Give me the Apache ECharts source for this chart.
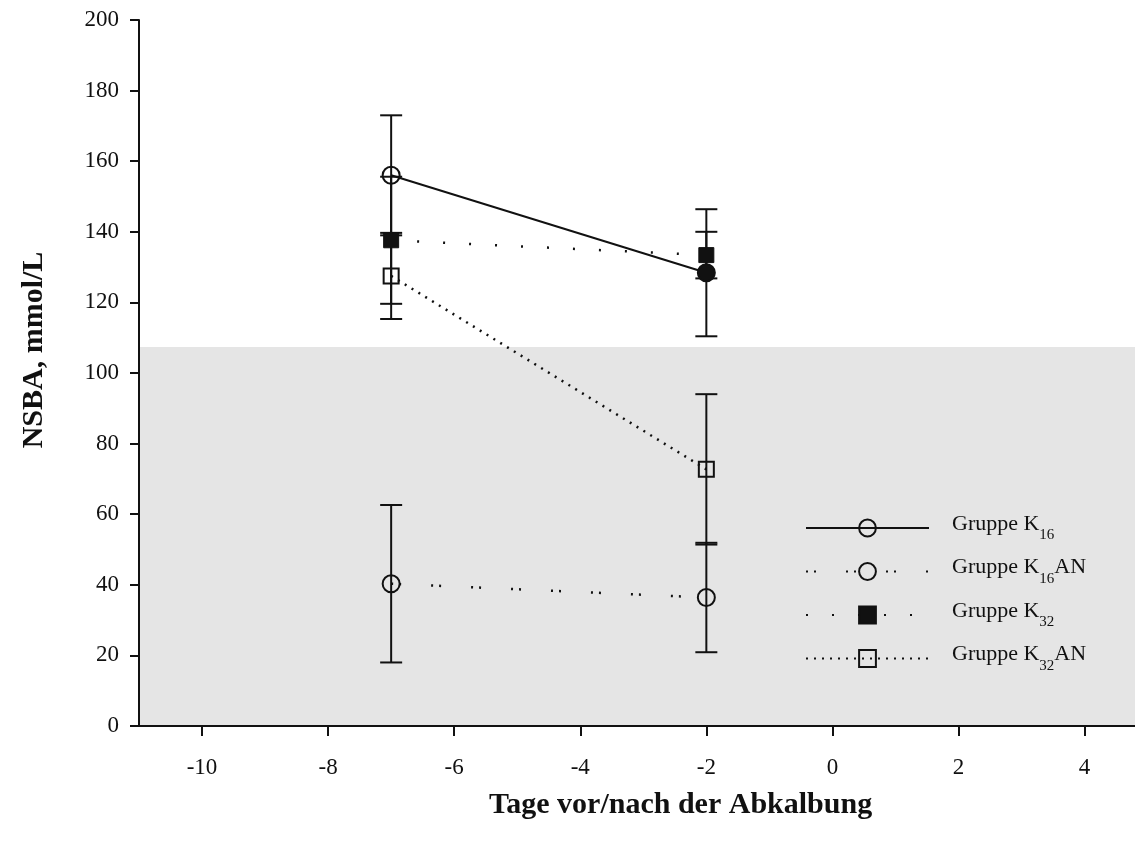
<!DOCTYPE html>
<html>
<head>
<meta charset="utf-8">
<script src="https://cdn.jsdelivr.net/npm/echarts@6/dist/echarts.min.js"></script>
<style>
  html, body { margin: 0; padding: 0; background: #fff; }
  #chart { width: 1135px; height: 846px; }
</style>
</head>
<body>
<div id="chart"></div>
<script>
// days relative to calving
var days = [-7, -2];
var xTicks = [-10, -8, -6, -4, -2, 0, 2, 4];

// group means and error (+/-)
var k16 = [156, 128.4];
var k16Err = [17, 18];
var k16an = [40.3, 36.4];
var k16anErr = [22.3, 15.5];
var k32 = [137.6, 133.4];
var k32Err = [18, 6.6];
var k32an = [127.5, 72.7];
var k32anErr = [12.2, 21.3];

// reference range (grey band)
var refLow = 0;
var refHigh = 107.4;

var FONT = '"Liberation Serif", "DejaVu Serif", serif';

function pts(vals) {
    var out = [];
    for (var i = 0; i < days.length; i++) out.push([days[i], vals[i]]);
    return out;
}

function errRows() {
    var groups = [[k16, k16Err], [k16an, k16anErr], [k32, k32Err], [k32an, k32anErr]];
    var rows = [];
    groups.forEach(function (g) {
        for (var i = 0; i < days.length; i++) {
            rows.push([days[i], g[0][i] - g[1][i], g[0][i] + g[1][i]]);
        }
    });
    return rows;
}

function renderErr(params, api) {
    var x = api.value(0);
    var lo = api.coord([x, api.value(1)]);
    var hi = api.coord([x, api.value(2)]);
    var half = 11;
    var st = { stroke: '#111', lineWidth: 2 };
    return {
        type: 'group',
        children: [
            { type: 'line', shape: { x1: lo[0], y1: lo[1], x2: hi[0], y2: hi[1] }, style: st },
            { type: 'line', shape: { x1: lo[0] - half, y1: lo[1], x2: lo[0] + half, y2: lo[1] }, style: st },
            { type: 'line', shape: { x1: hi[0] - half, y1: hi[1], x2: hi[0] + half, y2: hi[1] }, style: st }
        ]
    };
}

function legendName(name) {
    // "Gruppe K16AN" -> subscript digits
    var m = name.match(/^(Gruppe K)(\d+)(.*)$/);
    if (!m) return name;
    return '{b|' + m[1] + '}{sub|' + m[2] + '}' + (m[3] ? '{b|' + m[3] + '}' : '');
}

var openItem = { color: 'transparent', borderColor: '#111', borderWidth: 2 };

var k16Data = pts(k16);
k16Data[1] = { value: k16Data[1], itemStyle: { color: '#111' } };

var chart = echarts.init(document.getElementById('chart'));
chart.setOption({
    animation: false,
    backgroundColor: '#fff',
    grid: { left: 139, right: 0, top: 20, bottom: 120 },
    title: {
        text: 'Tage vor/nach der Abkalbung',
        left: 484,
        top: 785,
        textStyle: { fontFamily: FONT, fontSize: 30, fontWeight: 'bold', color: '#111' }
    },
    legend: {
        left: 800,
        top: 508,
        orient: 'vertical',
        itemWidth: 123,
        itemHeight: 21,
        itemGap: 13.5,
        itemStyle: { borderWidth: 2 },
        data: ['Gruppe K16', 'Gruppe K16AN', 'Gruppe K32', 'Gruppe K32AN'],
        formatter: legendName,
        textStyle: {
            fontFamily: FONT,
            color: '#111',
            padding: [0, 0, 0, 18],
            rich: {
                b: { fontFamily: FONT, fontSize: 22, color: '#111', verticalAlign: 'top', lineHeight: 30 },
                sub: { fontFamily: FONT, fontSize: 15, color: '#111', verticalAlign: 'bottom', lineHeight: 30 }
            }
        }
    },
    xAxis: {
        type: 'value',
        z: 10,
        min: -11,
        max: 4.8,
        splitLine: { show: false },
        axisLine: { onZero: false, lineStyle: { color: '#111', width: 2 } },
        axisTick: { customValues: xTicks, length: 10, lineStyle: { color: '#111', width: 2 } },
        axisLabel: {
            customValues: xTicks,
            margin: 30,
            fontFamily: FONT,
            fontSize: 23,
            color: '#111'
        }
    },
    yAxis: {
        type: 'value',
        z: 10,
        min: 0,
        max: 200,
        interval: 20,
        name: 'NSBA, mmol/L',
        nameLocation: 'middle',
        nameGap: 90,
        nameTextStyle: {
            fontFamily: FONT, fontSize: 30, fontWeight: 'bold', color: '#111',
            padding: [0, 0, 0, 46]
        },
        splitLine: { show: false },
        axisLine: { show: true, onZero: false, lineStyle: { color: '#111', width: 2 } },
        axisTick: { show: true, length: 9, lineStyle: { color: '#111', width: 2 } },
        axisLabel: { margin: 20, fontFamily: FONT, fontSize: 23, color: '#111' }
    },
    series: [
        {
            type: 'custom',
            name: 'err',
            silent: true,
            z: 1,
            renderItem: renderErr,
            data: errRows(),
            markArea: {
                silent: true,
                z: 0,
                itemStyle: { color: '#e5e5e5' },
                data: [[{ yAxis: refLow, x: 140 }, { yAxis: refHigh, x: 1135 }]]
            }
        },
        {
            name: 'Gruppe K16',
            type: 'line',
            z: 3,
            symbol: 'circle',
            symbolSize: 17,
            itemStyle: openItem,
            lineStyle: { color: '#111', width: 2, type: 'solid' },
            data: k16Data
        },
        {
            name: 'Gruppe K16AN',
            type: 'line',
            z: 3,
            symbol: 'circle',
            symbolSize: 17,
            itemStyle: openItem,
            lineStyle: { color: '#111', width: 2.5, type: [2, 6, 2, 30] },
            data: pts(k16an)
        },
        {
            name: 'Gruppe K32',
            type: 'line',
            z: 3,
            symbol: 'rect',
            symbolSize: 15,
            itemStyle: { color: '#111', borderColor: '#111', borderWidth: 1 },
            lineStyle: { color: '#111', width: 2.5, type: [2, 24] },
            data: pts(k32)
        },
        {
            name: 'Gruppe K32AN',
            type: 'line',
            z: 3,
            symbol: 'rect',
            symbolSize: 15,
            itemStyle: openItem,
            lineStyle: { color: '#111', width: 2.5, type: [2, 6] },
            data: pts(k32an)
        }
    ]
});
</script>
</body>
</html>
